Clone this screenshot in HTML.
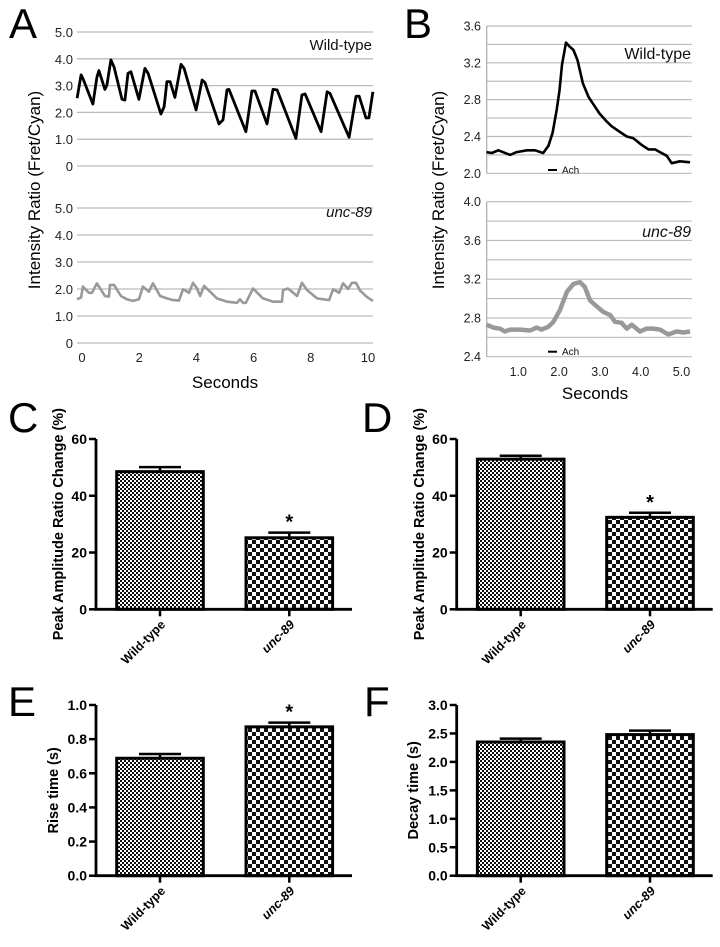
<!DOCTYPE html>
<html><head><meta charset="utf-8"><style>
html,body{margin:0;padding:0;background:#fff;}
svg{display:block;font-family:"Liberation Sans",sans-serif;}
</style></head><body>
<svg id="fig" width="720" height="947" viewBox="0 0 720 947">
<defs>
<pattern id="chkFine" width="4" height="4" patternUnits="userSpaceOnUse"><rect width="4" height="4" fill="#fff"/><rect width="2" height="2" fill="#111"/><rect x="2" y="2" width="2" height="2" fill="#111"/></pattern>
<pattern id="chkCoarse" width="8" height="8" patternUnits="userSpaceOnUse"><rect width="8" height="8" fill="#fff"/><rect width="4" height="4" fill="#111"/><rect x="4" y="4" width="4" height="4" fill="#111"/></pattern>
</defs>
</svg>
<script>
// ---------- Panel A data ----------
const aWildT = [-0.17,-0.03,0.03,0.38,0.52,0.59,0.8,0.87,1.01,1.12,1.4,1.5,1.61,1.71,1.99,2.2,2.31,2.76,2.87,2.97,3.08,3.25,3.46,3.57,3.99,4.2,4.3,4.79,4.93,5.07,5.14,5.73,5.94,6.05,6.47,6.68,6.82,7.48,7.69,7.8,8.36,8.57,8.67,9.34,9.58,9.69,9.93,10.03,10.17];
const aWildV = [2.53,3.4,3.27,2.31,3.31,3.56,2.86,3.02,3.96,3.7,2.49,2.46,3.46,3.52,2.49,3.64,3.46,1.94,2.21,3.15,3.15,2.56,3.79,3.64,2.09,3.21,3.11,1.57,1.72,2.84,2.86,1.28,2.8,2.8,1.57,2.86,2.84,1.03,2.65,2.69,1.28,2.77,2.71,1.07,2.6,2.61,1.79,1.8,2.77];
const aUncT = [-0.17,-0.03,0.03,0.24,0.35,0.52,0.8,0.94,0.98,1.12,1.36,1.57,1.78,1.99,2.13,2.34,2.48,2.62,2.73,2.97,3.18,3.39,3.53,3.74,3.88,4.02,4.13,4.27,4.48,4.72,5.07,5.42,5.52,5.63,5.73,5.98,6.33,6.68,6.99,7.03,7.2,7.52,7.69,7.87,8.22,8.64,8.78,8.99,9.13,9.3,9.44,9.58,9.72,9.97,10.17];
const aUncV = [1.62,1.69,2.09,1.86,1.86,2.21,1.74,1.72,2.15,2.15,1.74,1.62,1.56,1.62,2.09,1.9,2.21,1.96,1.74,1.65,1.59,1.57,1.99,1.86,2.23,2.02,1.74,2.11,1.9,1.65,1.53,1.49,1.62,1.49,1.49,2.02,1.65,1.53,1.53,1.96,2.02,1.74,2.23,1.96,1.65,1.59,1.99,1.86,2.21,2.0,2.23,2.23,1.94,1.7,1.56];
const aYTicks = [0,1,2,3,4,5];
const aYLabels = ['0','1.0','2.0','3.0','4.0','5.0'];
const aXTicks = [0,2,4,6,8,10];
// ---------- Panel B data ----------
const bWildT = [0.22,0.35,0.51,0.8,0.96,1.21,1.41,1.61,1.74,1.84,1.94,2.01,2.07,2.17,2.25,2.35,2.45,2.58,2.72,2.84,2.99,3.15,3.29,3.49,3.66,3.82,4.02,4.19,4.35,4.47,4.64,4.76,4.96,5.21];
const bWildV = [2.23,2.22,2.25,2.20,2.23,2.25,2.25,2.22,2.30,2.44,2.69,2.90,3.18,3.42,3.38,3.34,3.23,2.98,2.83,2.75,2.65,2.57,2.51,2.45,2.40,2.38,2.31,2.26,2.26,2.23,2.19,2.11,2.13,2.12];
const bUncT = [0.22,0.39,0.55,0.67,0.8,1.04,1.29,1.45,1.57,1.74,1.86,2.02,2.19,2.35,2.51,2.63,2.76,2.92,3.09,3.25,3.37,3.53,3.66,3.78,3.98,4.15,4.31,4.47,4.68,4.88,5.05,5.21];
const bUncV = [2.73,2.70,2.69,2.66,2.68,2.68,2.67,2.70,2.68,2.71,2.76,2.88,3.07,3.15,3.17,3.12,2.98,2.92,2.86,2.83,2.76,2.75,2.69,2.73,2.66,2.69,2.69,2.68,2.63,2.66,2.65,2.66];
const bTopTicks = [2.0,2.4,2.8,3.2,3.6];
const bBotTicks = [2.4,2.8,3.2,3.6,4.0];
const bXTicks = [1,2,3,4,5];
// ---------- Bar charts data ----------
const barCats = ['Wild-type','unc-89'];
const cVals = [48.5,25.2]; const cErr = [1.6,1.8];
const dVals = [52.9,32.4]; const dErr = [1.2,1.6];
const eVals = [0.688,0.872]; const eErr = [0.025,0.025];
const fVals = [2.35,2.48]; const fErr = [0.06,0.07];
const cTicks = [0,20,40,60]; const eTicks = [0,0.2,0.4,0.6,0.8,1.0]; const fTicks = [0,0.5,1.0,1.5,2.0,2.5,3.0];
const sigFlags = {c:[false,true], d:[false,true], e:[false,true], f:[false,false]};

const NS='http://www.w3.org/2000/svg';
const svg=document.getElementById('fig');
function mk(tag,attrs,parent,text){const e=document.createElementNS(NS,tag);for(const k in attrs)e.setAttribute(k,attrs[k]);if(text!==undefined)e.textContent=text;(parent||svg).appendChild(e);return e;}
function grp(name){const g=mk('g',{});


return g;}

// Panel letters
[['A',9,38],['B',404,38],['C',8,432],['D',362,432],['E',8,716],['F',364,716]].forEach(p=>{
 const t=mk('text',{x:p[1],y:p[2],'font-size':42,fill:'#000'},svg,p[0]);
 
 
});

// ---------- Panel A ----------
function drawA(g,y0,y1,tVals,vVals,color,width,label,italic,labelY){
 const xS=t=>82+t*28.6;
 const yS=v=>y0-(y0-y1)*v/5;
 aYTicks.forEach((v,i)=>{
  const l=mk('line',{x1:77,x2:373,y1:yS(v),y2:yS(v),stroke:'#bbb','stroke-width':1.3},g);
  
  
  const t=mk('text',{x:73,y:yS(v)+5,'font-size':13,'text-anchor':'end',fill:'#222'},g,aYLabels[i]);
  
  
 });
 const pts=tVals.map((t,i)=>xS(t).toFixed(1)+','+yS(vVals[i]).toFixed(1)).join(' ');
 const pl=mk('polyline',{points:pts,fill:'none',stroke:color,'stroke-width':width,'stroke-linejoin':'round'},g);
 
 
 const lt=mk('text',{x:372,y:labelY,'font-size':15,'text-anchor':'end','font-style':italic?'italic':'normal',fill:'#111'},g,label);
 
 
 return xS;
}
const gA1=grp('panel-a-wild-type-chart');
drawA(gA1,166,32,aWildT,aWildV,'#000',2.8,'Wild-type',false,50);
const gA2=grp('panel-a-unc-89-chart');
const axS=drawA(gA2,343,208,aUncT,aUncV,'#999',2.6,'unc-89',true,217);
aXTicks.forEach(v=>{
 const t=mk('text',{x:axS(v),y:362,'font-size':13,'text-anchor':'middle',fill:'#222'},gA2,String(v));
 
 
});
let tt=mk('text',{x:225,y:388,'font-size':17,'text-anchor':'middle'},svg,'Seconds');


tt=mk('text',{x:0,y:0,'font-size':17,'text-anchor':'middle',transform:'translate(40,190) rotate(-90)'},svg,'Intensity Ratio (Fret/Cyan)');



// ---------- Panel B ----------
const bxS=t=>477.5+t*40.8;
function drawB(g,yBot,yTop,vMin,vMax,ticks,tVals,vVals,color,width,label,italic,labelY,achY){
 const yS=v=>yBot-(yBot-yTop)*(v-vMin)/(vMax-vMin);
 for(let v=vMin;v<=vMax+1e-6;v+=0.2){
  const l=mk('line',{x1:486.7,x2:691.7,y1:yS(v),y2:yS(v),stroke:'#bbb','stroke-width':1.2},g);
  
  
 }
 ticks.forEach(v=>{
  const t=mk('text',{x:481,y:yS(v)+4.5,'font-size':12.5,'text-anchor':'end',fill:'#222'},g,v.toFixed(1));
  
  
 });
 const ax=mk('line',{x1:486.7,x2:486.7,y1:yTop,y2:yBot,stroke:'#aaa','stroke-width':1.2},g);
 
 
 const pts=tVals.map((t,i)=>bxS(t).toFixed(1)+','+yS(vVals[i]).toFixed(1)).join(' ');
 const pl=mk('polyline',{points:pts,fill:'none',stroke:color,'stroke-width':width,'stroke-linejoin':'round'},g);
 
 
 const lt=mk('text',{x:691,y:labelY,'font-size':16,'text-anchor':'end','font-style':italic?'italic':'normal',fill:'#111'},g,label);
 
 
 const al=mk('line',{x1:548,x2:557,y1:achY,y2:achY,stroke:'#000','stroke-width':2},g);
 
 
 const at=mk('text',{x:562,y:achY+3.5,'font-size':10,fill:'#111'},g,'Ach');
 
 
}
const gB1=grp('panel-b-wild-type-chart');
drawB(gB1,173.3,26,2.0,3.6,bTopTicks,bWildT,bWildV,'#000',2.6,'Wild-type',false,59,170);
const gB2=grp('panel-b-unc-89-chart');
drawB(gB2,356.7,201.7,2.4,4.0,bBotTicks,bUncT,bUncV,'#999',4.5,'unc-89',true,237,351.7);
bXTicks.forEach(v=>{
 const t=mk('text',{x:bxS(v),y:376,'font-size':12.5,'text-anchor':'middle',fill:'#222'},gB2,v.toFixed(1));
 
 
});
tt=mk('text',{x:595,y:399,'font-size':17,'text-anchor':'middle'},svg,'Seconds');


tt=mk('text',{x:0,y:0,'font-size':17,'text-anchor':'middle',transform:'translate(444,190) rotate(-90)'},svg,'Intensity Ratio (Fret/Cyan)');



// ---------- Bar charts ----------
function drawBar(name,axX,y0,y1,vMax,ticks,dec,vals,errs,sig,title,titleX){
 const g=grp(name);
 const yS=v=>y0-(y0-y1)*v/vMax;
 const bw=86.6, bx=[axX+20.7, axX+150];
 // bars
 vals.forEach((v,i)=>{
  const r=mk('rect',{x:bx[i],y:yS(v),width:bw,height:y0-yS(v),fill:i===0?'url(#chkFine)':'url(#chkCoarse)',stroke:'#000','stroke-width':3},g);
  
  
  const cx=bx[i]+bw/2;
  const e=mk('path',{d:`M${cx},${yS(v)} V${yS(v+errs[i])} M${cx-21},${yS(v+errs[i])} H${cx+21}`,stroke:'#000','stroke-width':2.5,fill:'none'},g);
  
  
  if(sig[i]){
   const s=mk('text',{x:cx,y:yS(v+errs[i])-4,'font-size':20,'font-weight':'bold','text-anchor':'middle'},g,'*');
   
   
  }
  const tk=mk('line',{x1:cx,x2:cx,y1:y0,y2:y0+7,stroke:'#000','stroke-width':2.5},g);
  
  
  const lb=mk('text',{x:0,y:0,'font-size':12.5,'font-weight':'bold','text-anchor':'end','font-style':i===1?'italic':'normal',transform:`translate(${cx+6},${y0+16}) rotate(-45)`},g,barCats[i]);
  
  
 });
 const axes=mk('path',{d:`M${axX},${y1} V${y0} H${axX+256}`,stroke:'#000','stroke-width':2.8,fill:'none'},g);
 
 
 ticks.forEach(v=>{
  const l=mk('line',{x1:axX-7,x2:axX,y1:yS(v),y2:yS(v),stroke:'#000','stroke-width':2.5},g);
  
  
  const t=mk('text',{x:axX-9,y:yS(v)+5,'font-size':14,'font-weight':'bold','text-anchor':'end'},g,v.toFixed(dec));
  
  
 });
 const yt=mk('text',{x:0,y:0,'font-size':14.5,'font-weight':'bold','text-anchor':'middle',transform:`translate(${titleX},${(y0+y1)/2}) rotate(-90)`},g,title);
 
 
}
drawBar('panel-c-bar-chart',96,609.3,439,60,cTicks,0,cVals,cErr,sigFlags.c,'Peak Amplitude Ratio Change (%)',63);
drawBar('panel-d-bar-chart',456.7,609.3,439,60,cTicks,0,dVals,dErr,sigFlags.d,'Peak Amplitude Ratio Change (%)',424);
drawBar('panel-e-bar-chart',96,875.7,705,1.0,eTicks,1,eVals,eErr,sigFlags.e,'Rise time (s)',58);
drawBar('panel-f-bar-chart',456.7,875.7,705,3.0,fTicks,1,fVals,fErr,sigFlags.f,'Decay time (s)',418);
</script>
</body></html>
